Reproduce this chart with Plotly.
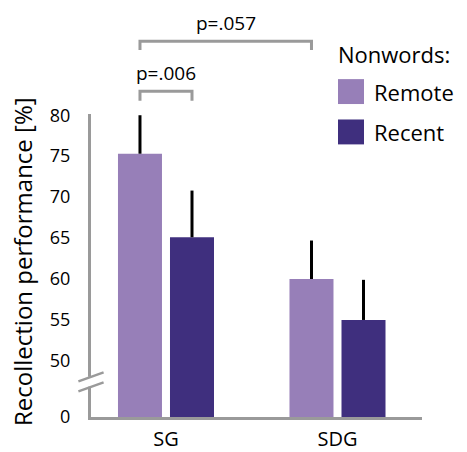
import plotly.graph_objects as go

# ---- data ----
groups = ["SG", "SDG"]
remote = [75.3, 60.0]
recent = [65.1, 55.0]
remote_err = [4.7, 4.7]
recent_err = [5.7, 4.9]
series_names = ["Remote", "Recent"]
legend_title = "Nonwords:"
ytick_vals_upper = [50, 55, 60, 65, 70, 75, 80]
ytick_labels_upper = ["50", "55", "60", "65", "70", "75", "80"]
comparisons = [  # (label, group_a, series_a, group_b, series_b, level, drop)
    ("p=.006", 0, 0, 0, 1, 82.93, 81.76),
    ("p=.057", 0, 0, 1, 0, 89.03, 87.98),
]

# ---- style ----
C_REMOTE = "#977fb8"
C_RECENT = "#3f2f7e"
GRAY = "#9a9a9a"
FONT = "Open Sans"

W = 0.2566
OFFS = [-0.28, 0.0233]
ZERO_POS = 43.15          # where the broken axis shows "0"
XMIN, XMAX = -0.4373, 1.4927
YMIN, YMAX = ZERO_POS, 80.15

x = list(range(len(groups)))

fig = go.Figure()
for vals, errs, col, off, name in [(remote, remote_err, C_REMOTE, OFFS[0], series_names[0]),
                                   (recent, recent_err, C_RECENT, OFFS[1], series_names[1])]:
    fig.add_trace(go.Bar(
        x=x, y=vals, width=W, offset=off, name=name, marker_color=col,
        marker_line_width=0, showlegend=False,
        error_y=dict(type="data", symmetric=False, array=errs,
                     arrayminus=[0] * len(errs), color="black",
                     thickness=3, width=0),
    ))

def px_(xv):
    return (xv - XMIN) / (XMAX - XMIN)

def py_(yv):
    return (yv - YMIN) / (YMAX - YMIN)

shapes = []
annotations = []

# significance brackets
for label, ga, sa, gb, sb, lvl, drop in comparisons:
    xa = ga + OFFS[sa] + W / 2
    xb = gb + OFFS[sb] + W / 2
    path = "M {a},{d} L {a},{l} L {b},{l} L {b},{d}".format(
        a=px_(xa), b=px_(xb), l=py_(lvl), d=py_(drop))
    shapes.append(dict(type="path", xref="paper", yref="paper", path=path,
                       line=dict(color=GRAY, width=3)))
    annotations.append(dict(x=px_((xa + xb) / 2), y=py_(lvl) + 0.012, xref="paper",
                            yref="paper", text=label, showarrow=False,
                            xanchor="center", yanchor="bottom",
                            font=dict(family=FONT, size=19, color="black")))

# axis break
bx = px_(XMIN)
dx = 0.038
shapes.append(dict(type="rect", xref="paper", yref="paper",
                   x0=bx - 0.015, x1=bx + 0.015, y0=py_(46.85), y1=py_(48.06),
                   fillcolor="white", line=dict(width=0), layer="above"))
for y0, y1 in [(47.5, 48.6), (46.28, 47.37)]:
    shapes.append(dict(type="line", xref="paper", yref="paper",
                       x0=bx - dx, x1=bx + dx, y0=py_(y0), y1=py_(y1),
                       line=dict(color=GRAY, width=2.5), layer="above"))

# legend (manual, large swatches)
lx = 1 + (338 - 422) / 331.0
sw = 26 / 331.0
sh = 25 / 304.0
annotations.append(dict(x=lx - 0.005, y=(417.5 - 53) / 304.0, xref="paper", yref="paper",
                        text=legend_title, showarrow=False, xanchor="left",
                        yanchor="middle", font=dict(family=FONT, size=22, color="black")))
for i, (name, col) in enumerate(zip(series_names, [C_REMOTE, C_RECENT])):
    cy = 91 + 40.5 * i
    yc = (417.5 - cy) / 304.0
    shapes.append(dict(type="rect", xref="paper", yref="paper",
                       x0=lx, x1=lx + sw, y0=yc - sh / 2, y1=yc + sh / 2,
                       fillcolor=col, line=dict(width=0)))
    annotations.append(dict(x=lx + sw + 8 / 331.0, y=yc, xref="paper", yref="paper",
                            text=name, showarrow=False, xanchor="left", yanchor="middle",
                            font=dict(family=FONT, size=22, color="black")))

# y-axis title
annotations.append(dict(x=(22 - 91) / 331.0, y=(417.5 - 262) / 304.0, xref="paper",
                        yref="paper", text="Recollection performance [%]",
                        textangle=-90, showarrow=False, xanchor="center",
                        yanchor="middle", font=dict(family=FONT, size=24, color="black")))

fig.update_layout(
    width=467, height=452,
    margin=dict(l=91, r=45, t=113.5, b=34.5, autoexpand=False),
    paper_bgcolor="white", plot_bgcolor="white",
    barmode="overlay",
    shapes=shapes, annotations=annotations,
    showlegend=False,
    xaxis=dict(range=[XMIN, XMAX], tickvals=x, ticktext=groups, automargin=False,
               showline=True, linecolor=GRAY, linewidth=3, showgrid=False,
               zeroline=False, ticks="", ticklabelstandoff=2,
               tickfont=dict(family=FONT, size=20, color="black")),
    yaxis=dict(range=[YMIN, YMAX], tickvals=[ZERO_POS + 0.01] + ytick_vals_upper,
               ticktext=["0"] + ytick_labels_upper, automargin=False,
               showline=True, linecolor=GRAY, linewidth=3, showgrid=False,
               zeroline=False, ticks="", ticklabelstandoff=14,
               tickfont=dict(family=FONT, size=18, color="black")),
)

fig.write_html("out.html")
